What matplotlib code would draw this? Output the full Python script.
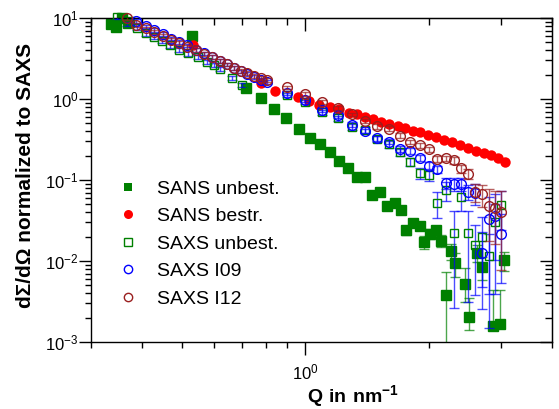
import numpy as np
import matplotlib
matplotlib.use("Agg")
import matplotlib.pyplot as plt
from matplotlib.lines import Line2D
from matplotlib.ticker import LogLocator, NullFormatter

plt.rcParams['font.family'] = ['Liberation Sans', 'DejaVu Sans']
plt.rcParams['mathtext.fontset'] = 'custom'
plt.rcParams['mathtext.rm'] = 'Liberation Sans'
plt.rcParams['mathtext.bf'] = 'Liberation Sans:bold'

# ---- SANS, unbestrahlt (filled squares) ----
q_sans_unb = [0.336, 0.345, 0.357, 0.371, 0.529, 0.717, 0.780, 0.840, 0.899, 0.967,
              1.029, 1.088, 1.151, 1.211, 1.274, 1.340, 1.402, 1.458, 1.525, 1.587,
              1.651, 1.717, 1.766, 1.836, 1.900, 1.954, 2.021, 2.079, 2.138, 2.199,
              2.262, 2.313, 2.448, 2.503, 2.619, 2.693, 2.866, 2.981, 3.049]
i_sans_unb = [8.43, 7.81, 9.92, 8.93, 6.00, 1.36, 1.04, 0.746, 0.578, 0.426,
              0.330, 0.276, 0.220, 0.172, 0.139, 0.110, 0.110, 0.0644, 0.0717, 0.0484,
              0.0525, 0.0426, 0.0241, 0.0292, 0.0270, 0.0172, 0.0215, 0.0238, 0.0177, 0.0038,
              0.0133, 0.00945, 0.00516, 0.00202, 0.0127, 0.0085, 0.00159, 0.00167, 0.0103]
# relative uncertainties (upper / lower)
r_sans_unb_hi = [0.03, 0.03, 0.03, 0.03, 0.03, 0.03, 0.03, 0.03, 0.03, 0.03,
                 0.03, 0.03, 0.03, 0.03, 0.03, 0.03, 0.03, 0.047, 0.042, 0.062,
                 0.057, 0.070, 0.124, 0.103, 0.111, 0.19, 0.14, 0.126, 0.17, 0.95,
                 0.23, 0.32, 0.58, 0.74, 0.24, 0.32, 1.76, 1.62, 0.26]
r_sans_unb_lo = [0.03, 0.03, 0.03, 0.03, 0.03, 0.03, 0.03, 0.03, 0.03, 0.03,
                 0.03, 0.03, 0.03, 0.03, 0.03, 0.03, 0.03, 0.047, 0.042, 0.062,
                 0.057, 0.070, 0.124, 0.103, 0.111, 0.19, 0.14, 0.126, 0.17, 0.99,
                 0.23, 0.32, 0.39, 0.30, 0.24, 0.32, 0.10, 0.10, 0.26]

# ---- SANS, bestrahlt (filled circles) ----
q_sans_best = [0.532, 0.780, 0.845, 0.959, 1.023, 1.082, 1.151, 1.211, 1.277,
               1.340, 1.402, 1.466, 1.534, 1.605, 1.679, 1.756, 1.836, 1.910, 1.988,
               2.079, 2.175, 2.275, 2.379, 2.489, 2.604, 2.724, 2.834, 2.948, 3.066]
i_sans_best = [4.64, 1.56, 1.26, 1.06, 0.945, 0.855, 0.797, 0.742, 0.681,
               0.644, 0.605, 0.562, 0.523, 0.491, 0.464, 0.439, 0.408, 0.391, 0.364,
               0.341, 0.316, 0.292, 0.270, 0.250, 0.231, 0.215, 0.201, 0.185, 0.167]

# ---- SAXS, unbestrahlt (open squares) ----
q_saxs_unb = [0.347, 0.367, 0.388, 0.409, 0.427, 0.447, 0.468, 0.492, 0.518, 0.548,
              0.576, 0.599, 0.620, 0.663, 0.702, 0.9, 1.0, 1.1, 1.2, 1.3,
              1.4, 1.5, 1.6, 1.7, 1.8, 1.9, 2.0, 2.1, 2.2, 2.3,
              2.4, 2.5, 2.6, 2.7, 2.8, 2.9, 3.0]
i_saxs_unb = [10.4, 8.43, 7.46, 6.44, 5.83, 5.20, 4.58, 4.03, 3.65, 3.30,
              2.89, 2.63, 2.35, 1.82, 1.49, 1.12, 0.918, 0.691, 0.582, 0.451,
              0.414, 0.321, 0.278, 0.222, 0.167, 0.122, 0.115, 0.052, 0.0752, 0.0222,
              0.0617, 0.0222, 0.0158, 0.0198, 0.0115, 0.0303, 0.0491]
r_saxs_unb = [0.06, 0.06, 0.06, 0.06, 0.06, 0.06, 0.06, 0.06, 0.06, 0.06,
              0.06, 0.06, 0.06, 0.06, 0.06, 0.06, 0.06, 0.07, 0.07, 0.08,
              0.08, 0.09, 0.10, 0.10, 0.12, 0.15, 0.15, 0.35, 0.27, 0.88,
              0.32, 0.86, 0.76, 0.76, 0.87, 0.66, 0.51]

# ---- SAXS, beamline I09 (open circles) ----
q_i09 = [0.386, 0.409, 0.427, 0.449, 0.470, 0.492, 0.515, 0.541, 0.566, 0.592,
         0.620, 0.645, 0.671, 0.697, 0.721, 0.750, 0.780, 0.807, 0.9, 1.0,
         1.1, 1.2, 1.3, 1.4, 1.5, 1.6, 1.7, 1.8, 1.9, 2.0,
         2.1, 2.2, 2.3, 2.4, 2.5, 2.6, 2.7, 2.8, 2.9, 3.0]
i_i09 = [9.18, 7.86, 7.11, 6.35, 5.58, 5.05, 4.58, 4.03, 3.65, 3.30,
         2.94, 2.67, 2.41, 2.19, 2.04, 1.87, 1.74, 1.62, 1.18, 0.972,
         0.732, 0.626, 0.484, 0.406, 0.327, 0.297, 0.241, 0.230, 0.187, 0.151,
         0.136, 0.0911, 0.0892, 0.0892, 0.0717, 0.0691, 0.0127, 0.0327, 0.0359, 0.0215]
r_i09 = [0.05, 0.05, 0.05, 0.05, 0.05, 0.05, 0.05, 0.05, 0.05, 0.05,
         0.05, 0.05, 0.05, 0.05, 0.05, 0.05, 0.05, 0.05, 0.05, 0.05,
         0.05, 0.06, 0.06, 0.06, 0.07, 0.07, 0.08, 0.08, 0.09, 0.10,
         0.11, 0.16, 0.17, 0.17, 0.21, 0.29, 0.80, 0.88, 0.89, 0.75]

# ---- SAXS, beamline I12 (open circles) ----
q_i12 = [0.367, 0.386, 0.409, 0.427, 0.449, 0.470, 0.492, 0.515, 0.541, 0.566,
         0.592, 0.620, 0.645, 0.671, 0.697, 0.721, 0.750, 0.780, 0.807, 0.9,
         1.0, 1.1, 1.2, 1.3, 1.4, 1.5, 1.6, 1.7, 1.8, 1.9,
         2.0, 2.1, 2.2, 2.3, 2.4, 2.5, 2.6, 2.7, 2.8, 2.9, 3.0]
i_i12 = [10.0, 8.20, 7.42, 6.72, 6.00, 5.35, 4.91, 4.39, 4.03, 3.59,
         3.30, 2.94, 2.67, 2.41, 2.22, 2.09, 1.92, 1.82, 1.72, 1.39,
         1.15, 0.918, 0.774, 0.644, 0.535, 0.458, 0.432, 0.354, 0.297, 0.267,
         0.239, 0.182, 0.185, 0.175, 0.139, 0.120, 0.0711, 0.0672, 0.0478, 0.0451, 0.0406]
r_i12 = [0.05, 0.05, 0.05, 0.05, 0.05, 0.05, 0.05, 0.05, 0.05, 0.05,
         0.05, 0.05, 0.05, 0.05, 0.05, 0.05, 0.05, 0.05, 0.05, 0.05,
         0.05, 0.05, 0.05, 0.05, 0.05, 0.06, 0.06, 0.06, 0.06, 0.07,
         0.07, 0.08, 0.08, 0.09, 0.11, 0.15, 0.25, 0.30, 0.63, 0.64, 0.81]

labels = ['SANS unbest.', 'SANS bestr.', 'SAXS unbest.', 'SAXS I09', 'SAXS I12']

GREEN = '#008000'
RED = '#ff0000'
BLUE = '#0000ff'
DARKRED = '#9a1f1f'

fig = plt.figure(figsize=(5.59, 4.09), dpi=100)
ax = fig.add_axes([91 / 559, 1 - 342 / 409, 461 / 559, 324 / 409])
ax.set_xscale('log')
ax.set_yscale('log')


def with_errors(q, y, rel_lo, rel_hi, marker, ms, mfc, mec, ecolor, z):
    y = np.asarray(y)
    lo = np.asarray(rel_lo) * y
    hi = np.asarray(rel_hi) * y
    eb = ax.errorbar(q, y, yerr=[lo, hi], fmt=marker, ms=ms, mfc=mfc, mec=mec,
                     mew=1.0, ecolor=ecolor, elinewidth=1.0, capsize=3.5,
                     capthick=1.0, zorder=z)
    eb[0].set_clip_on(False)
    for c in eb[1]:
        c.set_alpha(0.7)
    for c in eb[2]:
        c.set_alpha(0.7)
    return eb


with_errors(q_sans_unb, i_sans_unb, r_sans_unb_lo, r_sans_unb_hi,
            's', 7, GREEN, GREEN, GREEN, 2)
ax.plot(q_sans_best, i_sans_best, 'o', ms=7.5, mfc=RED, mec=RED, mew=0,
        zorder=3, clip_on=False)
with_errors(q_saxs_unb, i_saxs_unb, r_saxs_unb, r_saxs_unb,
            's', 6.3, 'none', GREEN, BLUE, 4)
with_errors(q_i09, i_i09, r_i09, r_i09, 'o', 7, 'none', BLUE, BLUE, 5)
with_errors(q_i12, i_i12, r_i12, r_i12, 'o', 7, 'none', DARKRED, DARKRED, 6)

ax.set_xlim(0.3, 4)
ax.set_ylim(1e-3, 10)

# ticks: outward on bottom/left, mirrored ticks pointing inward on top/right
ax.yaxis.set_major_locator(LogLocator(base=10, numticks=10))
ax.yaxis.set_minor_locator(LogLocator(base=10, subs=np.arange(2, 10), numticks=10))
ax.xaxis.set_minor_formatter(NullFormatter())
ax.yaxis.set_minor_formatter(NullFormatter())
ax.tick_params(which='major', direction='out', length=9, width=1, labelsize=12,
               colors='black')
ax.tick_params(which='minor', direction='out', length=4.3, width=1)
ax.tick_params(axis='x', which='major', pad=6)
ax.tick_params(axis='y', which='major', pad=0)

secx = ax.secondary_xaxis('top')
secx.tick_params(which='major', direction='in', length=9, width=1)
secx.tick_params(which='minor', direction='in', length=5, width=1)
secx.xaxis.set_major_formatter(NullFormatter())
secx.xaxis.set_minor_formatter(NullFormatter())

secy = ax.secondary_yaxis('right')
secy.yaxis.set_major_locator(LogLocator(base=10, numticks=10))
secy.yaxis.set_minor_locator(LogLocator(base=10, subs=np.arange(2, 10), numticks=10))
secy.tick_params(which='major', direction='in', length=9, width=1)
secy.tick_params(which='minor', direction='in', length=5, width=1)
secy.yaxis.set_major_formatter(NullFormatter())
secy.yaxis.set_minor_formatter(NullFormatter())

for sp in ax.spines.values():
    sp.set_linewidth(1.0)

ax.set_ylabel('dΣ/dΩ normalized to SAXS', fontsize=15, fontweight='bold')
ax.yaxis.set_label_coords(-0.122, 0.515)
ax.set_xlabel(r'$\mathbf{Q\ in\ nm^{-1}}$', fontsize=14)
ax.xaxis.set_label_coords(0.568, -0.128)

handles = [
    Line2D([], [], ls='none', marker='s', ms=6, mfc=GREEN, mec=GREEN, mew=0),
    Line2D([], [], ls='none', marker='o', ms=6.5, mfc=RED, mec=RED, mew=0),
    Line2D([], [], ls='none', marker='s', ms=5.2, mfc='none', mec=GREEN, mew=1),
    Line2D([], [], ls='none', marker='o', ms=6, mfc='none', mec=BLUE, mew=1),
    Line2D([], [], ls='none', marker='o', ms=6, mfc='none', mec=DARKRED, mew=1),
]
ax.legend(handles, labels, loc='upper left', bbox_to_anchor=(0.0597, 0.50),
          frameon=False, fontsize=14, handlelength=1.0, handletextpad=1.0,
          labelspacing=0.51, borderpad=0, borderaxespad=0, numpoints=1)

fig.savefig('out.png', dpi=100)
